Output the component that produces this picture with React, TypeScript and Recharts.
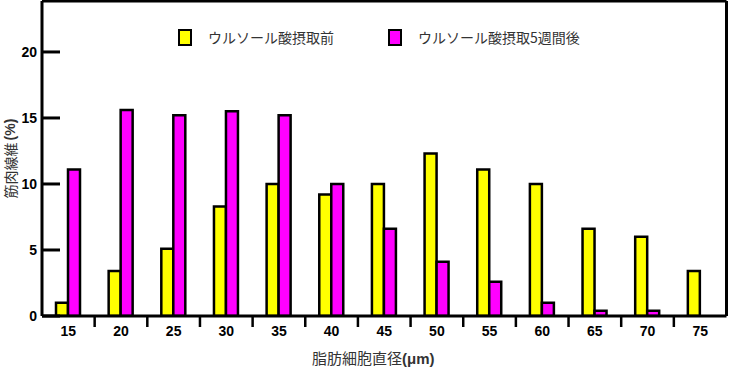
import { BarChart, Bar, XAxis, YAxis, Legend, ReferenceLine } from "recharts";

const sizes = ["15", "20", "25", "30", "35", "40", "45", "50", "55", "60", "65", "70", "75"];
const before = [1.0, 3.4, 5.1, 8.3, 10.0, 9.2, 10.0, 12.3, 11.1, 10.0, 6.6, 6.0, 3.4];
const after = [11.1, 15.6, 15.2, 15.5, 15.2, 10.0, 6.6, 4.1, 2.6, 1.0, 0.4, 0.4, 0];
const yTicks = [0, 5, 10, 15, 20];
const Y_MAX = 23.86;
const seriesNames = ["ウルソール酸摂取前", "ウルソール酸摂取5週間後"];
const seriesColors = ["#ffff00", "#ff00ff"];

const data = sizes.map((s, i) => ({ size: s, before: before[i], after: after[i] }));

const W = 729;
const H = 367;
const MARGIN = { top: 1, right: 2.5, left: 0, bottom: 0 };
const Y_W = 42;
const HALF_BAND = (W - MARGIN.right - Y_W) / sizes.length / 2;
const JP = '"Noto Sans CJK JP", "Noto Sans", sans-serif';
const NUM = '"Liberation Sans", Arial, sans-serif';

function XTick(props: any) {
  const { x, y, payload, index } = props;
  return (
    <g>
      {index < sizes.length - 1 && (
        <line x1={x + HALF_BAND} y1={y} x2={x + HALF_BAND} y2={y + 11} stroke="#000" strokeWidth={2.5} />
      )}
      <text x={x} y={y + 20} textAnchor="middle" fontFamily={NUM} fontWeight="bold" fontSize={14} fill="#000">
        {payload.value}
      </text>
    </g>
  );
}

function YTick(props: any) {
  const { x, y, payload } = props;
  return (
    <g>
      <line x1={x} y1={y} x2={x + 18} y2={y} stroke="#000" strokeWidth={3} />
      <text x={x - 5} y={y + 5} textAnchor="end" fontFamily={NUM} fontWeight="bold" fontSize={14} fill="#000">
        {payload.value}
      </text>
    </g>
  );
}

function XLabel(props: any) {
  const { x, y, width, height } = props.viewBox;
  return (
    <text x={x + width / 2 - 11} y={y + height - 3} textAnchor="middle" fontFamily={JP} fontSize={15} fill="#333">
      脂肪細胞直径<tspan fontWeight="bold" fontFamily={NUM}>(μm)</tspan>
    </text>
  );
}

function YLabel(props: any) {
  const { y, height } = props.viewBox;
  const cx = 10;
  const cy = y + height / 2;
  return (
    <text
      x={cx}
      y={cy}
      transform={`rotate(-90 ${cx} ${cy})`}
      textAnchor="middle"
      dominantBaseline="central"
      fontFamily={JP}
      fontSize={14}
      fill="#333"
    >
      筋肉線維<tspan dx={2} fontWeight="bold" fontFamily={NUM}>(%)</tspan>
    </text>
  );
}

const renderLegend = () => (
  <div
    style={{
      display: "flex",
      alignItems: "center",
      paddingLeft: 178,
      fontFamily: JP,
      fontSize: 14,
      color: "#333",
    }}
  >
    {seriesNames.map((n, i) => (
      <div key={n} style={{ display: "flex", alignItems: "center", marginRight: 54 }}>
        <span
          style={{
            display: "inline-block",
            boxSizing: "border-box",
            width: 14,
            height: 17,
            background: seriesColors[i],
            border: "2.5px solid #000",
            marginRight: 16,
          }}
        />
        <span>{n}</span>
      </div>
    ))}
  </div>
);

export default function App() {
  return (
    <div style={{ position: "absolute", left: 0, top: 0, background: "#fff" }}>
      <BarChart width={W} height={H} data={data} margin={MARGIN} barGap={0} barSize={12}>
        <XAxis
          xAxisId="main"
          dataKey="size"
          height={51}
          axisLine={{ stroke: "#000", strokeWidth: 3 }}
          tickLine={false}
          tickSize={0}
          tickMargin={0}
          tick={<XTick />}
          interval={0}
          label={XLabel}
        />
        <YAxis
          yAxisId="main"
          width={Y_W}
          domain={[0, Y_MAX]}
          ticks={yTicks}
          allowDataOverflow
          axisLine={{ stroke: "#000", strokeWidth: 3 }}
          tickLine={false}
          tickSize={0}
          tickMargin={0}
          tick={<YTick />}
          label={YLabel}
        />
        <ReferenceLine xAxisId="main" yAxisId="main" y={Y_MAX} stroke="#000" strokeWidth={3} ifOverflow="visible" />
        <ReferenceLine
          xAxisId="main"
          yAxisId="main"
          x={sizes[sizes.length - 1]}
          position="end"
          stroke="#000"
          strokeWidth={3}
          ifOverflow="visible"
        />
        <Legend
          content={renderLegend}
          verticalAlign="middle"
          wrapperStyle={{ position: "absolute", top: 27, left: 0, width: W }}
        />
        <Bar
          xAxisId="main"
          yAxisId="main"
          dataKey="before"
          name={seriesNames[0]}
          fill={seriesColors[0]}
          stroke="#000"
          strokeWidth={2.5}
          isAnimationActive={false}
        />
        <Bar
          xAxisId="main"
          yAxisId="main"
          dataKey="after"
          name={seriesNames[1]}
          fill={seriesColors[1]}
          stroke="#000"
          strokeWidth={2.5}
          isAnimationActive={false}
        />
      </BarChart>
    </div>
  );
}
